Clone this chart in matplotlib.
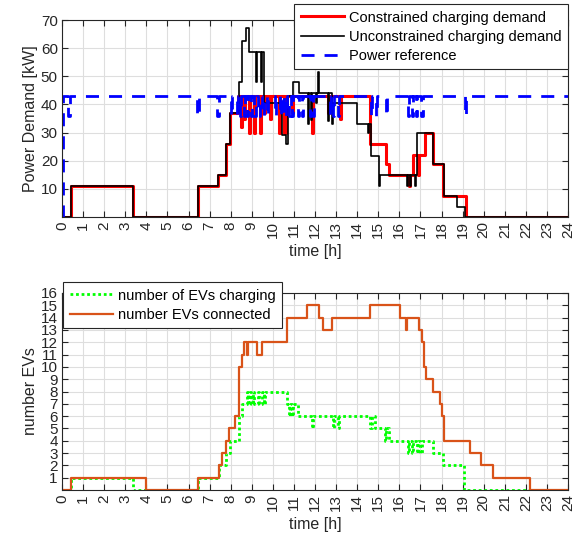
import matplotlib
matplotlib.use('Agg')
import matplotlib.pyplot as plt

# hours of day and values (step changes)
t_con = [0, 0.43, 3.35, 6.47, 7.38, 7.77, 7.97, 8.35, 8.5, 8.56, 8.64, 8.68, 8.88, 8.93, 9.12,
         9.17, 9.38, 9.43, 9.6, 9.65, 9.85, 9.9, 10.3, 10.36, 10.55, 10.62, 10.9, 10.95, 11.85, 11.9,
         12.6, 12.65, 13.2, 13.25, 14.6, 15.35, 15.5, 16.45, 16.5, 16.65, 16.9, 16.95, 17.2, 17.6, 18.06,
         19.15, 24]
p_con = [0, 11, 0, 11, 15, 26, 37, 43, 32, 43, 35, 43, 30, 43, 30,
         43, 30, 43, 37, 43, 35, 43, 30, 43, 30, 43, 37, 43, 30, 43,
         37, 43, 35, 43, 26, 19, 15, 11, 15, 22, 15, 22, 30, 19, 7.5,
         0, 0]

t_unc = [0, 0.43, 3.35, 6.47, 7.38, 7.77, 7.97, 8.4, 8.54, 8.75, 8.87, 9.2, 9.25, 9.45, 9.5,
         9.6, 10.42, 10.62, 10.72, 10.97, 11.24, 11.68, 11.73, 11.8, 11.84, 12.05, 12.1, 12.13, 12.2, 12.63,
         12.68, 12.8, 12.86, 13.98, 14.5, 14.55, 14.64, 15.04, 15.1, 16.35, 16.4, 16.5, 16.55, 16.75, 16.8,
         16.86, 17.62, 18.1, 18.72, 19.1, 24]
p_unc = [0, 11, 0, 11, 15, 26, 37, 48, 62.7, 67, 58.7, 48, 58.7, 48, 58.7,
         40.5, 29, 26, 43, 48, 44, 33, 44, 34.5, 44, 40.5, 44, 51.7, 44, 34,
         44, 33, 40.5, 33, 30, 33, 21.7, 11, 15, 11, 15, 11, 15, 11, 15,
         30, 19, 7.5, 3.5, 0, 0]

t_ref = [0, 0.06, 0.3, 0.4, 6.42, 6.5, 7.36, 7.44, 8.0, 8.06, 8.28, 8.34, 8.45, 8.5, 8.62,
         8.68, 8.78, 8.84, 8.95, 9.0, 9.12, 9.18, 9.32, 9.38, 9.5, 9.56, 9.72, 9.78, 10.1, 10.16,
         10.32, 10.38, 10.48, 10.54, 10.62, 10.68, 10.78, 10.84, 10.92, 10.98, 11.18, 11.24, 11.36, 11.42, 11.74,
         11.8, 11.9, 11.96, 12.7, 12.76, 12.86, 12.92, 13.08, 13.14, 14.66, 14.72, 14.9, 14.96, 15.36, 15.42,
         16.4, 16.46, 16.6, 16.66, 16.8, 16.86, 17.04, 17.1, 19.1, 19.16, 24]
p_ref = [0, 43, 36, 43, 36, 43, 36, 43, 36, 43, 36, 43, 36, 43, 36,
         43, 36, 43, 36, 43, 36, 43, 36, 43, 36, 43, 36, 43, 36, 43,
         36, 43, 36, 43, 36, 43, 36, 43, 36, 43, 36, 43, 36, 43, 36,
         43, 36, 43, 36, 43, 36, 43, 36, 43, 36, 43, 36, 43, 36, 43,
         36, 43, 36, 43, 36, 43, 36, 43, 36, 43, 43]

t_chg = [0, 0.43, 3.35, 6.47, 7.47, 7.76, 7.97, 8.41, 8.55, 8.76, 8.82, 8.9, 8.96, 9.05, 9.12,
         9.3, 9.36, 9.5, 9.56, 9.65, 10.66, 10.75, 10.8, 10.9, 10.95, 11.2, 11.84, 11.9, 12.84, 12.9,
         13.1, 13.16, 14.6, 14.68, 14.85, 15.3, 15.38, 15.5, 16.4, 16.46, 16.6, 16.66, 16.85, 16.9, 17.0,
         17.06, 17.62, 18.06, 19.08, 24]
n_chg = [0, 1, 0, 1, 2, 3, 4, 6, 7, 8, 7, 8, 7, 8, 7,
         8, 7, 8, 7, 8, 7, 6, 7, 6, 7, 6, 5, 6, 5, 6,
         5, 6, 5, 6, 5, 4, 5, 4, 3, 4, 3, 4, 3, 4, 3,
         4, 3, 2, 0, 0]

t_ev = [0, 0.43, 4.0, 6.47, 7.46, 7.6, 7.76, 7.93, 8.2, 8.41, 8.52, 8.65, 8.78, 8.82, 9.27,
        9.47, 10.66, 11.64, 12.2, 12.4, 12.8, 14.6, 16.03, 16.3, 16.35, 16.95, 17.06, 17.19, 17.25, 17.58,
        17.93, 18.01, 18.1, 19.35, 19.88, 20.43, 22.2, 24]
n_ev = [0, 1, 0, 1, 2, 3, 4, 5, 6, 10, 11, 12, 11, 12, 11,
        12, 14, 15, 14, 13, 14, 15, 14, 13, 14, 13, 12, 10, 9, 8,
        7, 6, 4, 3, 2, 1, 0, 0]

hours = list(range(25))

plt.rcParams['font.family'] = ['Liberation Sans', 'DejaVu Sans']
fig = plt.figure(figsize=(5.78, 5.39), dpi=100)
ax1 = fig.add_axes([62/578, 1-217/539, 506/578, 197/539])
ax2 = fig.add_axes([62/578, 1-490/539, 506/578, 197/539])

ax1.step(t_con, p_con, where='post', color='#ff0000', lw=2.2, label='Constrained charging demand')
ax1.step(t_unc, p_unc, where='post', color='k', lw=1.2, label='Unconstrained charging demand')
ax1.step(t_ref, p_ref, where='post', color='#0000ff', lw=2, ls=(0, (4.7, 3.6)), label='Power reference')

ax2.step(t_chg, n_chg, where='post', color='#00ff00', lw=2, ls=(0, (1, 1)), label='number of EVs charging')
ax2.step(t_ev, n_ev, where='post', color='#D95319', lw=1.6, label='number EVs connected')

for ax in (ax1, ax2):
    ax.set_xlim(0, 24)
    ax.set_xticks(hours)
    ax.set_xticklabels([str(h) for h in hours], rotation=90)
    ax.tick_params(direction='in', top=True, right=True, length=4, width=0.8,
                   labelsize=11, colors='0.15', pad=3)
    ax.grid(True, color='0.87', lw=0.8)
    ax.set_axisbelow(True)
    for s in ax.spines.values():
        s.set_color('0.15')
        s.set_linewidth(0.8)
    ax.set_xlabel('time [h]', fontsize=11.5, color='0.15', labelpad=4)

ax1.set_ylim(0, 70)
ax1.set_yticks(range(10, 71, 10))
ax1.set_ylabel('Power Demand [kW]', fontsize=11.5, color='0.15', labelpad=2)

ax2.set_ylim(0, 16)
ax2.set_yticks(range(1, 17))
ax2.set_ylabel('number EVs', fontsize=11.5, color='0.15', labelpad=2)

leg1 = ax1.legend(loc='upper right', bbox_to_anchor=(568/578, 1-4/539), bbox_transform=fig.transFigure,
                  fontsize=10.5, handlelength=3.0, handletextpad=0.3, borderpad=0.45, labelspacing=0.35,
                  borderaxespad=0, framealpha=1, fancybox=False, edgecolor='0.15')
leg1.get_frame().set_linewidth(0.8)
leg2 = ax2.legend(loc='upper left', bbox_to_anchor=(63/578, 1-282/539), bbox_transform=fig.transFigure,
                  fontsize=10.5, handlelength=3.0, handletextpad=0.3, borderpad=0.45, labelspacing=0.35,
                  borderaxespad=0, framealpha=1, fancybox=False, edgecolor='0.15')
leg2.get_frame().set_linewidth(0.8)

fig.savefig('out.png', dpi=100)
